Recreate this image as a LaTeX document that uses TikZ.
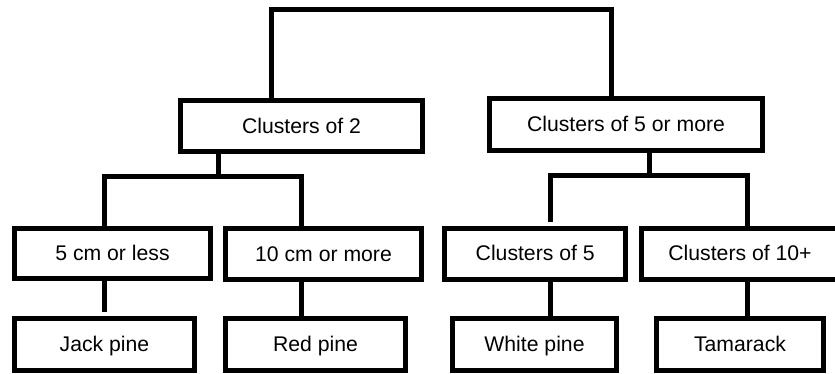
\documentclass[tikz,border=0pt]{standalone}
\usepackage{fontspec}
\setmainfont{Liberation Sans}
\begin{document}
\begin{tikzpicture}[x=1pt,y=-1pt,
  box/.style={draw=black,line width=5pt,outer sep=0pt,inner sep=0pt,
    rectangle,align=center,text height=17pt,text depth=3pt,
    font=\fontsize{21.2}{25}\selectfont},
  link/.style={draw=black,line width=5pt,line join=miter,line cap=butt}]
\fill[white] (0,0) rectangle (835,373);
\useasboundingbox (0,0) rectangle (835,373);
% level 1
\node[box,minimum width=242pt,minimum height=51pt] (c2) at (301.5,126) {Clusters of 2};
\node[box,minimum width=273pt,minimum height=52pt] (c5m) at (626,124.5) {Clusters of 5 or more};
% level 2
\node[box,minimum width=196pt,minimum height=50pt] (cm5) at (112.5,253.5) {5 cm or less};
\node[box,minimum width=196pt,minimum height=51pt] (cm10) at (323.5,254) {10 cm or more};
\node[box,minimum width=181pt,minimum height=51pt] (cl5) at (535.2,253.5) {Clusters of 5};
\node[box,minimum width=197pt,minimum height=51pt] (cl10) at (740,253.5) {Clusters of 10+};
% level 3
\node[box,minimum width=180pt,minimum height=52pt] (jack) at (104.5,344.5) {Jack pine};
\node[box,minimum width=180pt,minimum height=52pt] (red) at (315.5,344.5) {Red pine};
\node[box,minimum width=164pt,minimum height=52pt] (white) at (534.5,344.5) {White pine};
\node[box,minimum width=167pt,minimum height=52pt] (tam) at (740,344.5) {Tamarack};
% junction points
\coordinate (tl) at (271,9);
\coordinate (tr) at (611,9);
\coordinate (b1) at (218,176);
\coordinate (b1l) at (104.5,176);
\coordinate (b1r) at (301.5,176);
\coordinate (b2) at (649,175);
\coordinate (b2l) at (550.5,175);
\coordinate (b2r) at (747,175);
\coordinate (g1) at (550.5,222);
\coordinate (g2) at (104.5,312);
% connectors
\draw[link] (c2.north -| tl) -- (tl) -- (tr) -- (c5m.north -| tr);
\draw[link] (c2.south -| b1) -- (b1);
\draw[link] (cm5.north -| b1l) -- (b1l) -- (b1r) -- (cm10.north -| b1r);
\draw[link] (c5m.south -| b2) -- (b2);
\draw[link] (g1) -- (b2l) -- (b2r) -- (cl10.north -| b2r);
\draw[link] (cm5.south -| g2) -- (g2);
\draw[link] (cm10.south -| b1r) -- (red.north -| b1r);
\draw[link] (cl5.south -| b2l) -- (white.north -| b2l);
\draw[link] (cl10.south -| b2r) -- (tam.north -| b2r);
\end{tikzpicture}
\end{document}
